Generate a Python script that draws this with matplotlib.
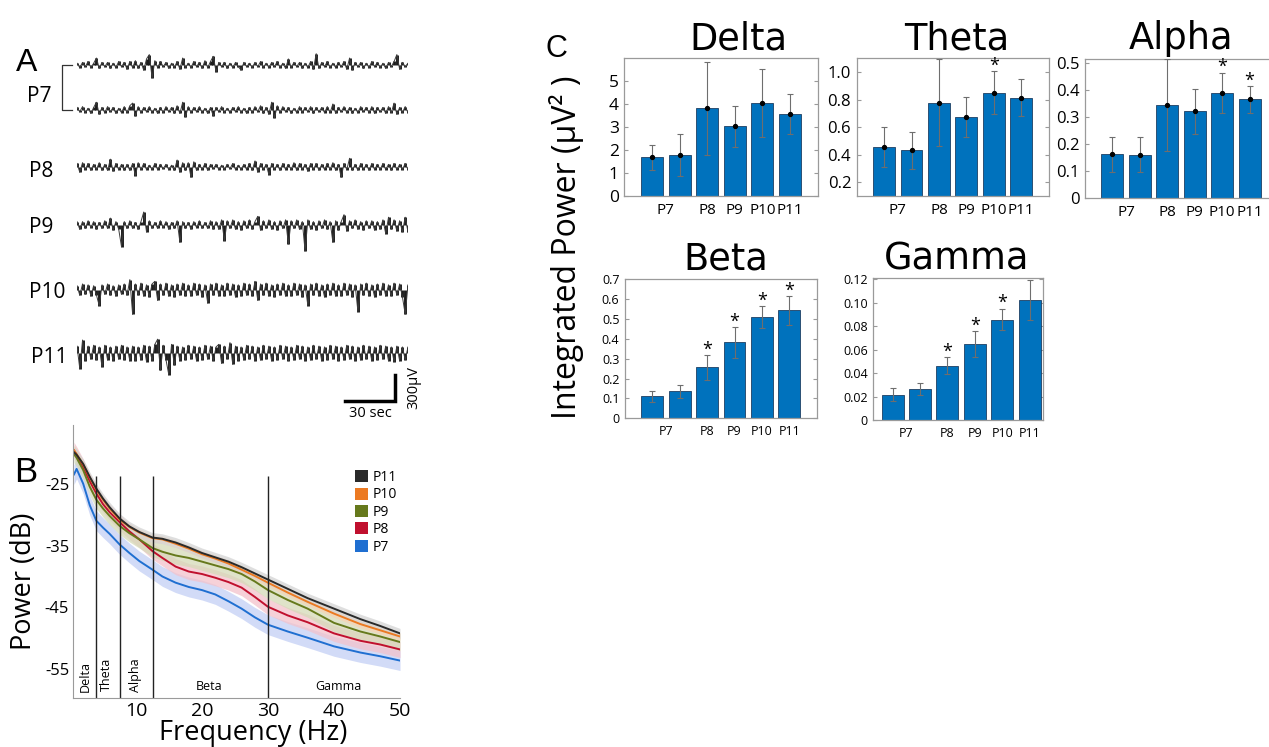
import matplotlib.pyplot as plt
from matplotlib.patches import Patch
import numpy as np

plt.rcParams['font.family'] = ['Open Sans', 'DejaVu Sans']
plt.rcParams['axes.unicode_minus'] = False

# ---------------- A: raw EEG traces (10 uV units)
trace_names = ["P7", "P7", "P8", "P9", "P10", "P11"]
tr_p7a = [2,-3,3,-2,4,-3,2,8,-4,3, -2,3,-4,2,-3,4,-2,3,-5,4, -3,5,-4,3,-6,7,12,-15,5,-3,
          4,-2,3,-4,2,-3,4,-5,8,-3, 2,-3,4,-2,3,-4,5,-3,4,10, -8,3,-2,3,-4,2,-3,3,-2,-6,
          3,-2,2,-3,3,-2,4,-3,2,-3, 3,-2,4,-3,2,-4,7,-3,3,-2, 3,-4,2,-3,4,-5,13,-4,3,-2,
          4,-3,2,-3,3,-2,4,-5,8,-6, 3,-2,3,-4,2,-3,4,-2,3,-3, 2,-4,3,-2,4,12,-5,3,-2,2]
tr_p7b = [3,-2,4,-3,2,-4,3,9,-5,3, -3,4,-2,3,-4,2,-3,4,-3,5, 8,-7,4,-3,3,-2,4,-3,2,-4,
          3,-3,4,-2,3,-4,5,-4,9,-8, 4,-3,3,-2,4,-3,2,-4,3,-7, 3,-2,4,-3,2,-3,3,-2,4,-3,
          2,-4,3,-3,4,-2,5,-4,3,-5, 9,-9,5,-3,4,-2,3,-4,2,-3, 4,-3,3,-2,4,-4,3,-2,3,-3,
          4,-3,7,-4,3,-2,4,-3,3,-4, 2,-3,4,-2,3,-3,4,-4,3,-2, 3,-4,4,-3,8,-5,3,-3,4,-3]
tr_p8 = [4,-6,5,-3,4,-4,3,-3,5,-4, 3,-4,9,-5,4,-3,3,-4,3,-4, 4,-10,5,-3,4,-3,2,-3,4,-3,
         3,-2,3,-3,2,-4,8,-6,5,-4, 5,-12,6,-4,3,-3,4,-4,3,-2, 3,-3,2,-3,3,-2,4,-3,2,-3,
         3,-3,4,-4,7,-6,4,-3,3,-9, 4,-3,3,-4,4,-3,3,-3,5,-4, 4,-3,3,-5,4,-3,4,-4,3,-3,
         4,-3,5,-4,3,-12,4,-3,10,-4, 3,-4,4,-3,3,-4,4,-3,3,-3, 4,-3,3,-4,4,-3,3,-3,4,-3]
tr_p9 = [4,-5,4,-4,5,-3,4,-5,3,-4, 5,-4,8,-6,4,-5,-25,4,-4,5, -4,3,-5,4,15,-8,5,-4,3,-4,
         5,-3,4,-5,3,-4,5,-20,4,-4, 3,-5,4,-3,5,-4,3,-4,5,-5, 4,-5,6,-18,5,-4,6,-5,4,-6,
         5,-4,6,-5,4,10,-6,5,-4,6, -5,4,-6,5,-4,6,-22,5,-4,6, -5,4,-30,6,-5,4,-6,5,-4,6,
         -5,4,-20,5,-6,4,12,-7,5,-4, 6,-5,4,-6,5,-4,5,-6,4,-5, 6,-10,9,-5,6,-7,5,-8,9,-8]
tr_p10 = [5,-6,7,-5,6,-7,5,-6,-18,6, -5,7,-6,5,-7,6,-5,7,-6,12, -28,7,-6,8,-7,6,-8,7,10,-12,
          7,-6,8,-7,6,-8,7,-6,8,-7, 6,-7,8,-6,7,-8,6,-15,7,-6, 8,-7,6,-7,8,-6,7,-8,6,-7,
          8,-6,7,-7,10,-12,7,-6,8,-7, 6,-8,7,-6,8,-7,6,-7,8,-6, 7,-8,6,-18,7,-6,8,-7,6,-8,
          7,-6,8,-7,6,-7,8,-6,7,-8, 6,-25,7,-6,8,-7,6,-8,7,-6, 8,-7,6,-7,8,-6,7,-8,-28,6]
tr_p11 = [8,-18,15,-9,8,-7,9,-8,7,-16, 9,-8,7,-9,8,-7,9,-8,7,-9, 8,-9,7,-8,9,-10,8,-9,10,16,
          -20,9,-8,-25,10,-14,8,-9,7,-8, 9,-7,8,-9,7,-8,9,-7,8,-9, 7,10,-12,8,-7,12,-13,8,-9,7,
          -8,9,-7,8,-9,7,-8,9,-7,8, -9,7,-8,9,-7,8,-9,7,-8,9, -7,8,-9,7,-8,9,-7,8,-9,7,
          -8,9,-7,8,-9,7,-8,9,-7,8, -9,7,-8,9,-7,8,-9,7,-8,9, -7,8,-9,7,-10,8,-9,7,-8,7]
traces = [tr_p7a, tr_p7b, tr_p8, tr_p9, tr_p10, tr_p11]
record_sec = 200

# ---------------- B: power spectra (dB)
freqs = [0.6, 1, 2, 3, 4, 5, 6, 7.5, 9, 10.5, 12.5, 14, 16, 18, 20, 22, 24, 26, 28, 30, 33, 36, 40, 44, 47, 50]
psd_p11 = [-19.9, -20.3, -21.8, -23.9, -25.8, -27.4, -28.8, -30.6, -31.9, -32.8, -33.7, -33.9, -34.5,
           -35.3, -36.2, -36.9, -37.6, -38.5, -39.5, -40.5, -42.0, -43.5, -45.2, -46.9, -48.0, -49.2]
psd_p10 = [-19.6, -20.2, -21.9, -24.0, -26.0, -27.6, -29.0, -30.8, -32.0, -32.9, -33.8, -34.0, -34.7,
           -35.5, -36.4, -37.1, -37.9, -38.9, -39.9, -41.0, -42.6, -44.1, -46.0, -47.7, -48.7, -49.7]
psd_p9 = [-20.2, -20.8, -22.8, -25.5, -27.6, -29.0, -30.2, -31.8, -33.0, -34.0, -35.4, -36.0, -36.6,
          -37.0, -37.6, -38.2, -38.8, -39.6, -40.8, -42.2, -43.8, -45.2, -47.5, -48.9, -49.7, -50.6]
psd_p8 = [-19.6, -20.3, -22.3, -24.6, -26.6, -28.3, -29.6, -31.2, -32.7, -34.0, -35.9, -37.0, -38.4,
          -39.2, -39.6, -40.2, -40.9, -41.8, -43.3, -44.9, -46.3, -47.4, -49.2, -50.4, -51.0, -51.8]
psd_p7 = [-23.5, -22.6, -25.0, -28.5, -31.0, -32.1, -33.1, -34.8, -36.2, -37.5, -38.9, -40.0, -41.0,
          -41.7, -42.2, -42.9, -44.0, -45.2, -46.6, -47.8, -48.9, -49.9, -51.3, -52.3, -52.9, -53.6]
sem_p11, sem_p10, sem_p9, sem_p8, sem_p7 = 0.8, 0.6, 1.4, 1.3, 1.6
band_edges = [4, 7.5, 12.5, 30]
band_names = ["Delta", "Theta", "Alpha", "Beta", "Gamma"]

# ---------------- C: integrated power per band
bar_groups = ["P7", "P8", "P9", "P10", "P11"]
delta_mean = [1.69, 1.78, 3.82, 3.03, 4.05, 3.57]
delta_err = [0.54, 0.90, 2.04, 0.88, 1.50, 0.88]
theta_mean = [0.459, 0.431, 0.779, 0.676, 0.851, 0.815]
theta_err = [0.145, 0.137, 0.317, 0.146, 0.154, 0.135]
alpha_mean = [0.162, 0.160, 0.344, 0.321, 0.388, 0.364]
alpha_err = [0.065, 0.064, 0.168, 0.083, 0.074, 0.050]
beta_mean = [0.110, 0.135, 0.256, 0.383, 0.511, 0.543]
beta_err = [0.028, 0.032, 0.061, 0.077, 0.054, 0.071]
gamma_mean = [0.0214, 0.0263, 0.0463, 0.0649, 0.0857, 0.1023]
gamma_err = [0.0055, 0.0050, 0.0074, 0.0108, 0.0092, 0.0170]
delta_sig = [0, 0, 0, 0, 0, 0]
theta_sig = [0, 0, 0, 0, 1, 0]
alpha_sig = [0, 0, 0, 0, 1, 1]
beta_sig = [0, 0, 1, 1, 1, 1]
gamma_sig = [0, 0, 1, 1, 1, 0]

W, H = 1269, 747
fig = plt.figure(figsize=(W / 100, H / 100), dpi=100)


def box(l, t, r, b):
    return [l / W, 1 - b / H, (r - l) / W, (b - t) / H]


def ftext(x, y, s, **kw):
    fig.text(x / W, 1 - y / H, s, **kw)


# ================= A
ax_a = fig.add_axes(box(77, 40, 408, 420))
ax_a.set_xlim(0, record_sec)
ax_a.set_ylim(0, 4385)
ax_a.axis('off')
offsets = [4097, 3577, 2920, 2250, 1500, 773]
for vals, off in zip(traces, offsets):
    v = np.array(vals) * 10.0
    t = np.linspace(0, record_sec, len(v))
    ax_a.vlines(t, off, v + off, color='#1c1c1c', lw=2.1)
    ax_a.plot(t, v + off, color='#3c3c3c', lw=0.7)

# P7 bracket
ax_a.plot([-3, -9, -9, -3], [offsets[0], offsets[0], offsets[1], offsets[1]],
          color='#333333', lw=0.9, clip_on=False)
# scale bar
ax_a.plot([162, 192, 192], [223, 223, 523], color='black', lw=2.5,
          solid_joinstyle='miter', clip_on=False)
ax_a.text(177, 70, "30 sec", ha='center', va='center', fontsize=10.5)
ax_a.text(203.5, 373, "300µV", ha='center', va='center', rotation=90, fontsize=10.5, clip_on=False)

ftext(26.7, 70.7, "A", ha='center', va='baseline', fontsize=23, family='Liberation Sans')
label_pos = [(39, 101.7, "P7"), (41, 176.7, "P8"), (41, 233.3, "P9"), (47.5, 298.3, "P10"), (49.3, 362.7, "P11")]
for x, y, s in label_pos:
    ftext(x, y, s, ha='center', va='baseline', fontsize=15)

# ================= B
ax_b = fig.add_axes(box(73.3, 425, 400, 698.3))
shade = {"P7": "#c3cff5", "P8": "#f3c2cb", "P9": "#d5dab8", "P10": "#f6d3b5", "P11": "#d4d4d4"}
line_col = {"P7": "#1f6fd1", "P8": "#c0102e", "P9": "#66791c", "P10": "#ec7a22", "P11": "#2a2a2a"}
psd = [("P7", psd_p7, sem_p7), ("P8", psd_p8, sem_p8), ("P9", psd_p9, sem_p9),
       ("P10", psd_p10, sem_p10), ("P11", psd_p11, sem_p11)]
for name, vals, sem in psd:
    v = np.array(vals)
    ax_b.fill_between(freqs, v - sem, v + sem, color=shade[name], alpha=0.75, lw=0)
for name, vals, sem in psd:
    ax_b.plot(freqs, vals, color=line_col[name], lw=1.4)
ax_b.set_xlim(0.5, 50)
ax_b.set_ylim(-59.7, -15.5)
ax_b.vlines(band_edges, -59.7, -23.7, color='#222222', lw=1.0)
ax_b.text(2.3, -56.2, "Delta", rotation=90, ha='center', va='center', fontsize=9)
ax_b.text(5.5, -55.8, "Theta", rotation=90, ha='center', va='center', fontsize=9)
ax_b.text(9.9, -55.9, "Alpha", rotation=90, ha='center', va='center', fontsize=9)
ax_b.text(21, -57.8, "Beta", ha='center', va='center', fontsize=9)
ax_b.text(40.6, -57.8, "Gamma", ha='center', va='center', fontsize=9)
ax_b.set_xticks([10, 20, 30, 40, 50])
ax_b.set_yticks([-25, -35, -45, -55])
ax_b.set_yticklabels(["-25", "-35", "-45", "-55"])
ax_b.tick_params(axis='x', labelsize=14, length=0, pad=3)
ax_b.tick_params(axis='y', labelsize=12, length=0, pad=3)
for s in ['top', 'right']:
    ax_b.spines[s].set_visible(False)
for s in ['left', 'bottom']:
    ax_b.spines[s].set_color('#9a9a9a')
handles = [Patch(facecolor=line_col[n], edgecolor='none') for n in ["P11", "P10", "P9", "P8", "P7"]]
ax_b.legend(handles, ["P11", "P10", "P9", "P8", "P7"], loc='upper left', bbox_to_anchor=(0.862, 0.835),
            frameon=False, fontsize=10, handlelength=0.95, handleheight=0.95, labelspacing=0.17,
            handletextpad=0.35, borderpad=0, borderaxespad=0)
ftext(26, 481.7, "B", ha='center', va='baseline', fontsize=25, family='Liberation Sans')
ftext(253.3, 740, "Frequency (Hz)", ha='center', va='baseline', fontsize=19.5)
ftext(24, 581.7, "Power (dB)", ha='center', va='center', rotation=90, fontsize=19.5)


# ================= C
def bar_panel(rect, means, errs, sig, ylim, xlim, yticks, ylabels, tick_fs, lab_fs, dots):
    ax = fig.add_axes(rect)
    x = np.arange(1, len(means) + 1)
    ax.bar(x, means, width=0.8, color='#0072bd', edgecolor='#1d3f63', linewidth=0.6, zorder=2)
    ax.errorbar(x, means, yerr=errs, fmt='o' if dots else 'none', ms=2.8, color='black',
                ecolor='#6e6e6e', elinewidth=0.8, capsize=2.5, capthick=0.8, zorder=3)
    for xi, m, e, s in zip(x, means, errs, sig):
        if s:
            ax.annotate('*', (xi, m + e), xytext=(0, 4), textcoords='offset points',
                        ha='center', va='center', fontsize=13, annotation_clip=False)
    ax.set_xlim(*xlim)
    ax.set_ylim(*ylim)
    ax.set_yticks(yticks)
    ax.set_yticklabels(ylabels)
    ax.set_xticks([1.5, 3, 4, 5, 6])
    ax.set_xticklabels(bar_groups)
    ax.tick_params(axis='x', length=0, labelsize=lab_fs, pad=5)
    ax.tick_params(axis='y', direction='in', length=3, right=True, color='#9a9a9a',
                   labelsize=tick_fs, pad=4)
    for s in ax.spines.values():
        s.set_color('#9a9a9a')
        s.set_linewidth(0.9)
    return ax


bar_panel(box(624.3, 58.3, 817.7, 196), delta_mean, delta_err, delta_sig, (0, 6), (0, 7),
          [0, 1, 2, 3, 4, 5], ["0", "1", "2", "3", "4", "5"], 12.5, 11, True)
bar_panel(box(856.7, 58.3, 1048.5, 196), theta_mean, theta_err, theta_sig, (0.1, 1.1), (0, 7),
          [0.2, 0.4, 0.6, 0.8, 1.0], ["0.2", "0.4", "0.6", "0.8", "1.0"], 12, 11, True)
bar_panel(box(1085, 59.3, 1277, 198.3), alpha_mean, alpha_err, alpha_sig, (0, 0.512), (0, 7),
          [0, 0.1, 0.2, 0.3, 0.4, 0.5], ["0", "0.1", "0.2", "0.3", "0.4", "0.5"], 12, 11, True)
bar_panel(box(625, 279.3, 816.7, 418.3), beta_mean, beta_err, beta_sig, (0, 0.7), (0, 7),
          [0, 0.1, 0.2, 0.3, 0.4, 0.5, 0.6, 0.7],
          ["0", "0.1", "0.2", "0.3", "0.4", "0.5", "0.6", "0.7"], 9, 9, False)
bar_panel(box(873.3, 278.3, 1042.7, 420), gamma_mean, gamma_err, gamma_sig, (0, 0.121), (0.3, 6.47),
          [0, 0.02, 0.04, 0.06, 0.08, 0.10, 0.12],
          ["0", "0.02", "0.04", "0.06", "0.08", "0.10", "0.12"], 9, 9, False)

title_pos = [(738.5, 49.3), (956.7, 49.3), (1180.8, 49.3), (725.8, 269.3), (956.7, 269.3)]
for (x, y), name in zip(title_pos, band_names):
    ftext(x, y, name, ha='center', va='baseline', fontsize=26.5, family='DejaVu Sans')

ftext(556, 57, "C", ha='center', va='baseline', fontsize=22, family='Liberation Sans')
ftext(566, 247.5, "Integrated Power (µV² )", ha='center', va='center', rotation=90, fontsize=23)

plt.savefig("out.png", dpi=100)
